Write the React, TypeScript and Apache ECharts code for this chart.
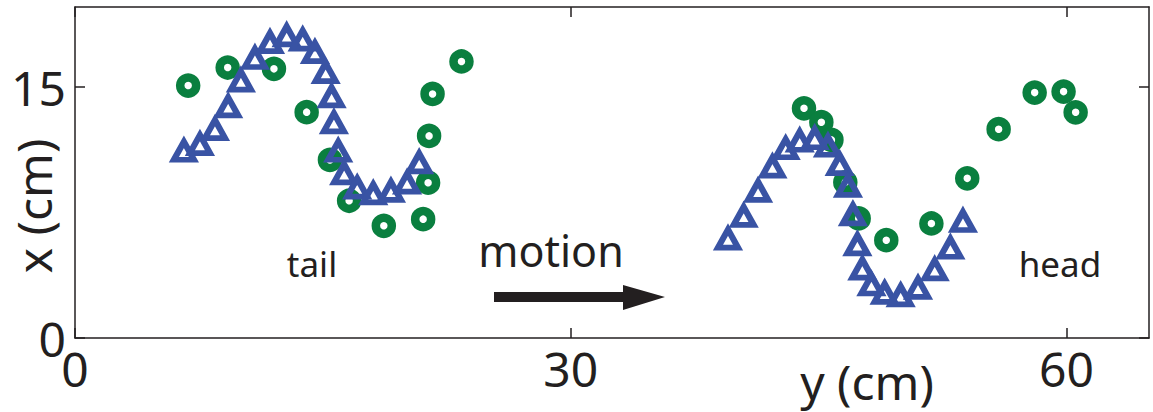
import React, { useEffect, useRef } from "react";
import * as echarts from "echarts";

// horizontal position = y (cm), vertical position = x (cm)
const tailTriY = [6.59, 7.56, 8.47, 9.27, 10.04, 10.89, 11.8, 12.81, 13.78, 14.52, 15.17, 15.53, 15.67, 15.93, 16.29, 17.08, 18.05, 19.12, 20.1, 20.83];
const tailTriX = [11.2, 11.6, 12.5, 13.85, 15.4, 16.75, 17.7, 18.1, 17.85, 17.1, 15.9, 14.45, 12.9, 11.2, 9.85, 9.0, 8.65, 8.8, 9.3, 10.5];
const headTriY = [39.52, 40.47, 41.34, 42.21, 43.01, 43.86, 44.77, 45.57, 46.28, 46.78, 47.08, 47.35, 47.65, 48.2, 49.0, 49.97, 51.02, 52.03, 52.98, 53.74];
const headTriX = [5.95, 7.3, 8.8, 10.25, 11.35, 11.8, 11.95, 11.5, 10.4, 9.1, 7.4, 5.6, 4.15, 3.2, 2.7, 2.55, 3.0, 4.1, 5.4, 7.0];
const tailCircY = [6.85, 9.24, 12.04, 14.02, 15.43, 16.59, 18.69, 21.07, 21.37, 21.43, 21.64, 23.39];
const tailCircX = [15.1, 16.18, 16.1, 13.51, 10.65, 8.21, 6.71, 7.11, 9.29, 12.09, 14.6, 16.54];
const headCircY = [44.12, 45.17, 45.78, 46.62, 47.43, 49.1, 51.83, 54.0, 55.9, 58.08, 59.83, 60.56];
const headCircX = [13.74, 12.91, 11.85, 9.31, 7.15, 5.85, 6.85, 9.55, 12.49, 14.68, 14.74, 13.5];

const xTicks = [0, 30, 60];
const yTicks = [0, 15];

const zip = (a: number[], b: number[]) => a.map((v, i) => [v, b[i]]);

const INK = "#231f20";
const BLUE = "#3953a4";
const GREEN = "#0a7f3f";
const FONT = "Noto Sans";

export default function App() {
  const ref = useRef<HTMLDivElement>(null);
  useEffect(() => {
    const chart = echarts.init(ref.current!, null, { renderer: "svg" });
    const axisLine = { show: true, onZero: false, lineStyle: { color: INK, width: 1.5 } };
    const tick = (vals: number[]) => ({ inside: true, length: 10, customValues: vals, lineStyle: { color: INK, width: 1.5 } });
    const tri = {
      type: "scatter",
      symbol: "triangle",
      symbolSize: [20, 18],
      silent: true,
      z: 3,
      itemStyle: { color: "transparent", borderColor: BLUE, borderWidth: 6, opacity: 1 },
    };
    const circ = {
      type: "scatter",
      symbol: "circle",
      symbolSize: 16,
      silent: true,
      z: 2,
      itemStyle: { color: "transparent", borderColor: GREEN, borderWidth: 8.5, opacity: 1 },
    };
    chart.setOption({
      animation: false,
      grid: { left: 75, right: 4, top: 7, bottom: 74 },
      xAxis: [
        {
          type: "value", min: 0, max: 65, interval: 30,
          axisLine, splitLine: { show: false }, axisTick: tick(xTicks),
          axisLabel: { customValues: xTicks, fontSize: 48, fontFamily: FONT, color: INK, margin: 6 },
        },
        {
          type: "value", min: 0, max: 65, interval: 30, position: "top",
          axisLine, splitLine: { show: false }, axisTick: tick(xTicks),
          axisLabel: { show: false },
        },
      ],
      yAxis: [
        {
          type: "value", min: 0, max: 19.8, interval: 15,
          axisLine, splitLine: { show: false }, axisTick: tick(yTicks),
          axisLabel: { customValues: yTicks, fontSize: 48, fontFamily: FONT, color: INK, margin: 9 },
        },
        {
          type: "value", min: 0, max: 19.8, interval: 15, position: "right",
          axisLine, splitLine: { show: false }, axisTick: tick(yTicks),
          axisLabel: { show: false },
        },
      ],
      series: [
        { ...circ, data: zip(tailCircY, tailCircX) },
        { ...circ, data: zip(headCircY, headCircX) },
        { ...tri, data: zip(tailTriY, tailTriX) },
        { ...tri, data: zip(headTriY, headTriX) },
      ],
      graphic: [
        { type: "text", x: 312, y: 263, style: { text: "tail", fontSize: 35, fontFamily: FONT, fill: INK, align: "center", verticalAlign: "middle" } },
        { type: "text", x: 1060, y: 263, style: { text: "head", fontSize: 35, fontFamily: FONT, fill: INK, align: "center", verticalAlign: "middle" } },
        { type: "text", x: 551, y: 250, style: { text: "motion", fontSize: 43, fontFamily: FONT, fill: INK, align: "center", verticalAlign: "middle" } },
        { type: "text", x: 867, y: 381, style: { text: "y (cm)", fontSize: 48, fontFamily: FONT, fill: INK, align: "center", verticalAlign: "middle" } },
        { type: "text", x: 33, y: 206, rotation: Math.PI / 2, style: { text: "x (cm)", fontSize: 48, fontFamily: FONT, fill: INK, align: "center", verticalAlign: "middle" } },
        {
          type: "polygon",
          shape: { points: [[494, 292], [623, 292], [623, 285], [665, 297], [623, 310], [623, 302], [494, 302]] },
          style: { fill: INK },
        },
      ],
    });
    return () => chart.dispose();
  }, []);
  return <div ref={ref} style={{ position: "fixed", left: 0, top: 0, width: 1153, height: 412, background: "#fff" }} />;
}
